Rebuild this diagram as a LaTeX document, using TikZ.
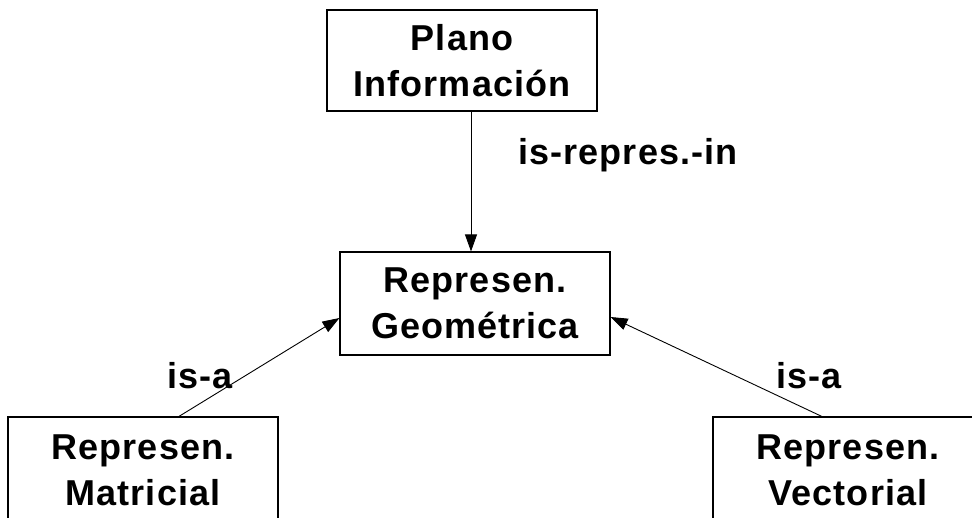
\documentclass[tikz,border=0pt]{standalone}
\usepackage{fontspec}
\setmainfont{Liberation Sans}[LetterSpace=3]
\usetikzlibrary{arrows.meta}
\begin{document}
\begin{tikzpicture}[x=1pt,y=-1pt,
  box/.style={draw,line width=1.1pt,minimum width=270pt,inner sep=0pt,align=center,
    font=\fontsize{36}{46}\selectfont\bfseries},
  lbl/.style={font=\fontsize{36}{46}\selectfont\bfseries,inner sep=0pt},
  conn/.style={line width=0.9pt,-{Triangle[length=17pt,width=12pt]}}]
\useasboundingbox (0,0) rectangle (972,518);
\node[box,minimum height=101pt] (plano) at (462,60.5) {Plano\\Información};
\node[box,minimum height=103pt] (geo) at (475,303.5) {Represen.\\Geométrica};
\node[box,minimum height=106pt] (mat) at (143,470) {Represen.\\Matricial};
\node[box,minimum height=106pt] (vec) at (848,470) {Represen.\\Vectorial};
\coordinate (matS) at (178,417);
\coordinate (vecS) at (823,417);
\draw[conn] (plano.south -| 471,0) -- (geo.north -| 471,0);
\draw[conn] (matS) -- (geo.west |- 0,318);
\draw[conn] (vecS) -- (geo.east |- 0,317);
\node[lbl] (l1) at (628,155) {is-repres.-in};
\node[lbl] (l2) at (200,376) {is-a};
\node[lbl] (l3) at (809,376) {is-a};
\end{tikzpicture}
\end{document}
